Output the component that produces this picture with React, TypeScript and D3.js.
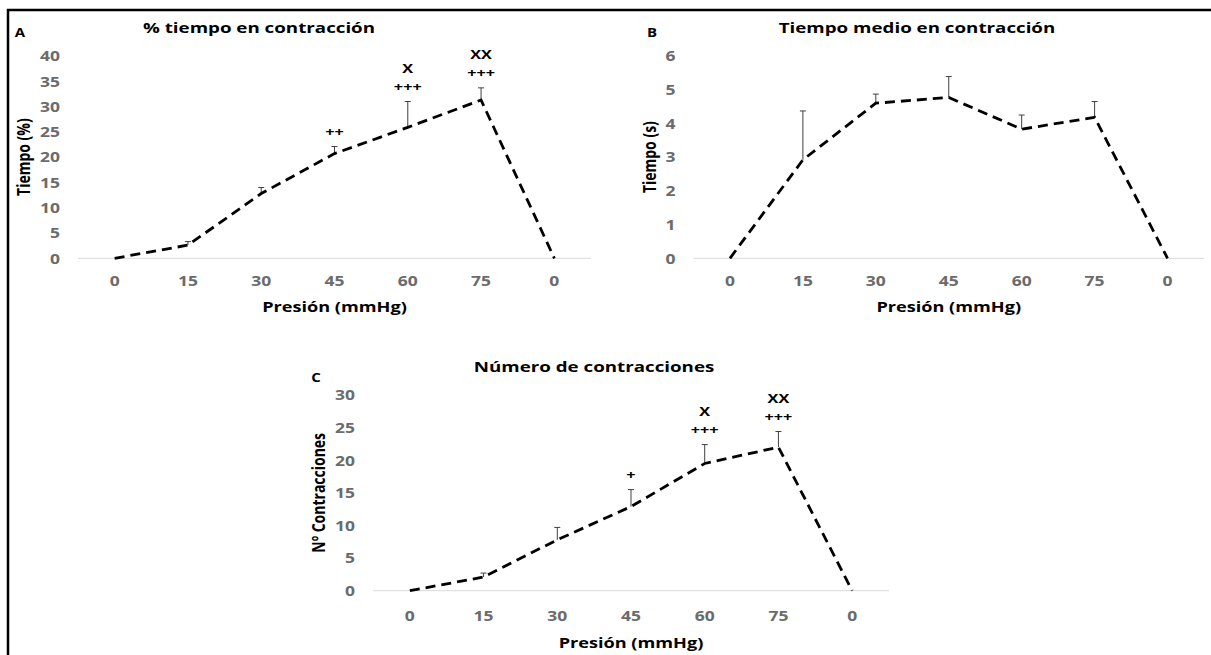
import * as d3 from "d3";
import { useEffect, useRef } from "react";

// pressure steps (mmHg), last one is the return to 0
const pressures = ["0", "15", "30", "45", "60", "75", "0"];

// A: % tiempo en contracción
const pctTime = [0, 2.6, 12.8, 20.7, 25.9, 31.3, 0];
const pctTimeSem = [0, 0.7, 1.2, 1.4, 5.1, 2.4, 0];
const pctTimeMarks = [[], [], [], ["++"], ["X", "+++"], ["XX", "+++"], []];
const pctTicks = [0, 5, 10, 15, 20, 25, 30, 35, 40];

// B: tiempo medio en contracción (s)
const meanTime = [0, 2.92, 4.6, 4.77, 3.83, 4.18, 0];
const meanTimeSem = [0, 1.45, 0.27, 0.62, 0.42, 0.47, 0];
const meanTimeMarks = [[], [], [], [], [], [], []];
const meanTicks = [0, 1, 2, 3, 4, 5, 6];

// C: número de contracciones
const nContr = [0, 2.1, 7.8, 12.9, 19.5, 22, 0];
const nContrSem = [0, 0.6, 1.9, 2.6, 2.9, 2.4, 0];
const nContrMarks = [[], [], [], ["+"], ["X", "+++"], ["XX", "+++"], []];
const nTicks = [0, 5, 10, 15, 20, 25, 30];

const FONT = "'Open Sans', sans-serif";
const SX = 1.25; // the source figure is stretched horizontally

export default function App() {
  const svgRef = useRef<SVGSVGElement>(null);

  useEffect(() => {
    const svg = d3.select(svgRef.current);
    svg.selectAll("*").remove();

    // frame lines (top + left)
    svg.append("line").attr("x1", 7).attr("x2", 1211).attr("y1", 10).attr("y2", 10)
      .attr("stroke", "#000").attr("stroke-width", 2.5);
    svg.append("line").attr("x1", 8).attr("x2", 8).attr("y1", 9).attr("y2", 655)
      .attr("stroke", "#000").attr("stroke-width", 2.5);

    const panels = [
      {
        letter: "A", title: "% tiempo en contracción", ylabel: "Tiempo (%)",
        values: pctTime, sem: pctTimeSem, marks: pctTimeMarks, ticks: pctTicks,
        x0: 78, x1: 591, top: 56, bottom: 258.3,
        titleX: 259, titleY: 27, letterX: 20, letterY: 32, yTitleX: 23,
        tickDy: 22, xTitleDy: 48,
      },
      {
        letter: "B", title: "Tiempo medio en contracción", ylabel: "Tiempo (s)",
        values: meanTime, sem: meanTimeSem, marks: meanTimeMarks, ticks: meanTicks,
        x0: 693.5, x1: 1204, top: 56, bottom: 258.3,
        titleX: 917, titleY: 27, letterX: 652, letterY: 32, yTitleX: 649,
        tickDy: 22, xTitleDy: 48,
      },
      {
        letter: "C", title: "Número de contracciones", ylabel: "Nº Contracciones",
        values: nContr, sem: nContrSem, marks: nContrMarks, ticks: nTicks,
        x0: 373, x1: 889, top: 395, bottom: 590.7,
        titleX: 594, titleY: 366.7, letterX: 316, letterY: 377, yTitleX: 318,
        tickDy: 25, xTitleDy: 52,
      },
    ];

    const stretched = (g: any, x: number, y: number, rot = 0) =>
      g.attr("transform", `translate(${x},${y}) scale(${SX},1)` + (rot ? ` rotate(${rot})` : ""));

    panels.forEach((p) => {
      const g = svg.append("g");
      const idx = d3.range(pressures.length);
      const x = d3.scaleBand<number>().domain(idx).range([p.x0, p.x1]);
      const cx = (i: number) => (x(i) as number) + x.bandwidth() / 2;
      const y = d3.scaleLinear().domain([0, d3.max(p.ticks) as number]).range([p.bottom, p.top]);

      // baseline
      g.append("line").attr("x1", p.x0).attr("x2", p.x1)
        .attr("y1", y(0)).attr("y2", y(0))
        .attr("stroke", "#d9d9d9").attr("stroke-width", 1);

      // y tick labels
      p.ticks.forEach((t) => {
        stretched(g.append("text"), p.x0 - 18, y(t))
          .attr("text-anchor", "end").attr("dominant-baseline", "central")
          .style("font-family", FONT).style("font-weight", 700).style("font-size", "14px")
          .style("fill", "#6b6b6b").text(t);
      });

      // x tick labels
      idx.forEach((i) => {
        stretched(g.append("text"), cx(i), y(0) + p.tickDy)
          .attr("text-anchor", "middle").attr("dominant-baseline", "central")
          .style("font-family", FONT).style("font-weight", 700).style("font-size", "14px")
          .style("fill", "#6b6b6b").text(pressures[i]);
      });

      // error bars (upper only)
      idx.forEach((i) => {
        if (!p.sem[i]) return;
        const yt = y(p.values[i] + p.sem[i]);
        g.append("line").attr("x1", cx(i)).attr("x2", cx(i))
          .attr("y1", y(p.values[i])).attr("y2", yt)
          .attr("stroke", "#404040").attr("stroke-width", 1);
        g.append("line").attr("x1", cx(i) - 3).attr("x2", cx(i) + 3)
          .attr("y1", yt).attr("y2", yt)
          .attr("stroke", "#404040").attr("stroke-width", 1);
      });

      // dashed line
      const line = d3.line<number>().x((i) => cx(i)).y((i) => y(p.values[i]));
      g.append("path").attr("d", line(idx) as string)
        .attr("fill", "none").attr("stroke", "#000")
        .attr("stroke-width", 2.8).attr("stroke-dasharray", "10,6");

      // significance marks (stacked above the error bar)
      idx.forEach((i) => {
        const marks = p.marks[i];
        const n = marks.length;
        marks.forEach((m, k) => {
          stretched(g.append("text"), cx(i), y(p.values[i] + p.sem[i]) - 11 - (n - 1 - k) * 17.5)
            .attr("text-anchor", "middle")
            .style("font-family", FONT).style("font-weight", 700).style("font-size", "13px")
            .style("fill", "#000").text(m);
        });
      });

      // titles
      stretched(g.append("text"), p.titleX, p.titleY)
        .attr("text-anchor", "middle").attr("dominant-baseline", "central")
        .style("font-family", FONT).style("font-weight", 700).style("font-size", "15px")
        .style("fill", "#000").text(p.title);
      stretched(g.append("text"), p.letterX, p.letterY)
        .attr("text-anchor", "middle").attr("dominant-baseline", "central")
        .style("font-family", FONT).style("font-weight", 700).style("font-size", "12px")
        .style("fill", "#000").text(p.letter);
      stretched(g.append("text"), (p.x0 + p.x1) / 2, y(0) + p.xTitleDy)
        .attr("text-anchor", "middle").attr("dominant-baseline", "central")
        .style("font-family", FONT).style("font-weight", 700).style("font-size", "14.5px")
        .style("fill", "#000").text("Presión (mmHg)");
      stretched(g.append("text"), p.yTitleX, (p.top + p.bottom) / 2, -90)
        .attr("text-anchor", "middle").attr("dominant-baseline", "central")
        .style("font-family", FONT).style("font-weight", 700).style("font-size", "14px")
        .style("fill", "#000").text(p.ylabel);
    });
  }, []);

  return (
    <div style={{ position: "absolute", left: 0, top: 0, width: 1211, height: 655, background: "#fff" }}>
      <svg ref={svgRef} width={1211} height={655} style={{ display: "block" }} />
    </div>
  );
}
